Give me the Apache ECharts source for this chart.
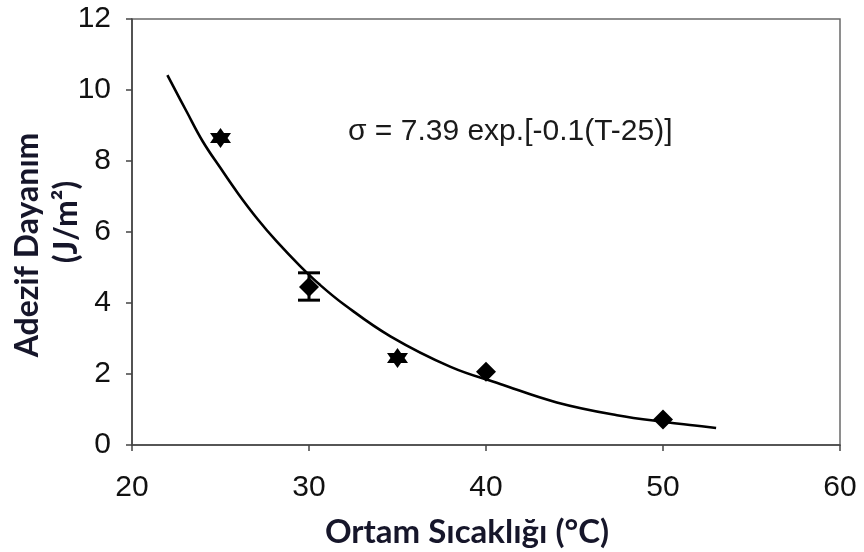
<!DOCTYPE html>
<html>
<head>
<meta charset="utf-8">
<script src="https://cdn.jsdelivr.net/npm/echarts@6/dist/echarts.min.js"></script>
<style>
html,body{margin:0;padding:0;background:#fff;}
#main{width:864px;height:552px;}
</style>
</head>
<body>
<div id="main"></div>
<script>
// Measured points (temperature °C, adhesive strength J/m²)
var pointT = [25, 30, 35, 40, 50];
var pointS = [8.65, 4.45, 2.45, 2.06, 0.72];
var pointShape = ['star', 'diamond', 'star', 'diamond', 'diamond'];
// Error bar (only visible one at 30 °C)
var errT = [30];
var errLow = [4.08];
var errHigh = [4.85];
// Fitted curve
var curveT = [22.0, 23.1, 24.0, 25.0, 26.0, 27.1, 28.2, 29.5, 30.6, 32.0, 34.6, 38.0, 40.8, 44.0, 47.4, 50.2, 51.8, 53.0];
var curveS = [10.42, 9.38, 8.55, 7.80, 7.08, 6.36, 5.72, 5.04, 4.52, 3.95, 3.06, 2.20, 1.72, 1.20, 0.84, 0.64, 0.55, 0.48];
// Axis ticks
var xTicks = [20, 30, 40, 50, 60];
var yTicks = [0, 2, 4, 6, 8, 10, 12];

var texts = {
  yTitle1: 'Adezif Dayanım',
  yTitle2: '(J/m²)',
  xTitle: 'Ortam Sıcaklığı (°C)',
  equation: 'σ = 7.39 exp.[-0.1(T-25)]'
};

var starPath = 'path://M0,-10 L2.9,-5 L8.66,-5 L5.8,0 L8.66,5 L2.9,5 L0,10 L-2.9,5 L-8.66,5 L-5.8,0 L-8.66,-5 L-2.9,-5 Z';

var chart = echarts.init(document.getElementById('main'));

var points = pointT.map(function (t, i) {
  return {
    value: [t, pointS[i]],
    symbol: pointShape[i] === 'star' ? starPath : 'diamond',
    symbolSize: pointShape[i] === 'star' ? [21, 20] : [20, 20]
  };
});
var curve = curveT.map(function (t, i) { return [t, curveS[i]]; });
var errData = errT.map(function (t, i) { return [t, errLow[i], errHigh[i]]; });

var axisTextColor = '#111';

chart.setOption({
  backgroundColor: '#ffffff',
  animation: false,
  grid: {
    left: 132, right: 24, top: 19, bottom: 107,
    show: true, borderColor: '#6a6a6a', borderWidth: 1.5
  },
  xAxis: {
    type: 'value', min: 20, max: 60, interval: 10,
    axisLine: { show: true, onZero: false, lineStyle: { color: '#444', width: 1.6 } },
    axisTick: { show: true, inside: false, length: 6, lineStyle: { color: '#444', width: 1.5 } },
    splitLine: { show: false },
    axisLabel: {
      fontFamily: 'Liberation Sans', fontSize: 30, color: axisTextColor, margin: 28,
      formatter: function (v) { return xTicks.indexOf(v) >= 0 ? String(v) : ''; }
    }
  },
  yAxis: {
    type: 'value', min: 0, max: 12, interval: 2,
    axisLine: { show: true, onZero: false, lineStyle: { color: '#444', width: 1.6 } },
    axisTick: { show: true, inside: false, length: 6, lineStyle: { color: '#444', width: 1.5 } },
    splitLine: { show: false },
    axisLabel: {
      fontFamily: 'Liberation Sans', fontSize: 30, color: axisTextColor, margin: 21,
      formatter: function (v) { return yTicks.indexOf(v) >= 0 ? String(v) : ''; }
    }
  },
  graphic: [
    {
      type: 'text', x: 28, y: 245, rotation: Math.PI / 2,
      style: {
        text: texts.yTitle1, fill: '#16162a',
        font: 'bold 32px Lato', textAlign: 'center', textVerticalAlign: 'middle'
      }
    },
    {
      type: 'text', x: 67, y: 222, rotation: Math.PI / 2,
      style: {
        text: texts.yTitle2, fill: '#16162a',
        font: 'bold 32px Lato', textAlign: 'center', textVerticalAlign: 'middle'
      }
    },
    {
      type: 'text', x: 467, y: 532,
      style: {
        text: texts.xTitle, fill: '#16162a',
        font: 'bold 33px Lato', textAlign: 'center', textVerticalAlign: 'middle'
      }
    },
    {
      type: 'text', x: 348, y: 132,
      style: {
        text: texts.equation, fill: '#1a1a1a',
        font: '30px "Liberation Sans"', textAlign: 'left', textVerticalAlign: 'middle'
      }
    }
  ],
  series: [
    {
      type: 'line', data: curve, smooth: 0.4, showSymbol: false, symbol: 'none',
      lineStyle: { color: '#000', width: 2.6 }, z: 2
    },
    {
      type: 'custom', data: errData, z: 3,
      renderItem: function (params, api) {
        var x = api.value(0);
        var lo = api.coord([x, api.value(1)]);
        var hi = api.coord([x, api.value(2)]);
        var cap = 11;
        var st = { stroke: '#000', lineWidth: 3 };
        return {
          type: 'group',
          children: [
            { type: 'line', shape: { x1: lo[0], y1: lo[1], x2: hi[0], y2: hi[1] }, style: st },
            { type: 'line', shape: { x1: lo[0] - cap, y1: lo[1], x2: lo[0] + cap, y2: lo[1] }, style: st },
            { type: 'line', shape: { x1: hi[0] - cap, y1: hi[1], x2: hi[0] + cap, y2: hi[1] }, style: st }
          ]
        };
      }
    },
    {
      type: 'scatter', data: points, z: 4,
      itemStyle: { color: '#000', opacity: 1 }
    }
  ]
});
</script>
</body>
</html>
